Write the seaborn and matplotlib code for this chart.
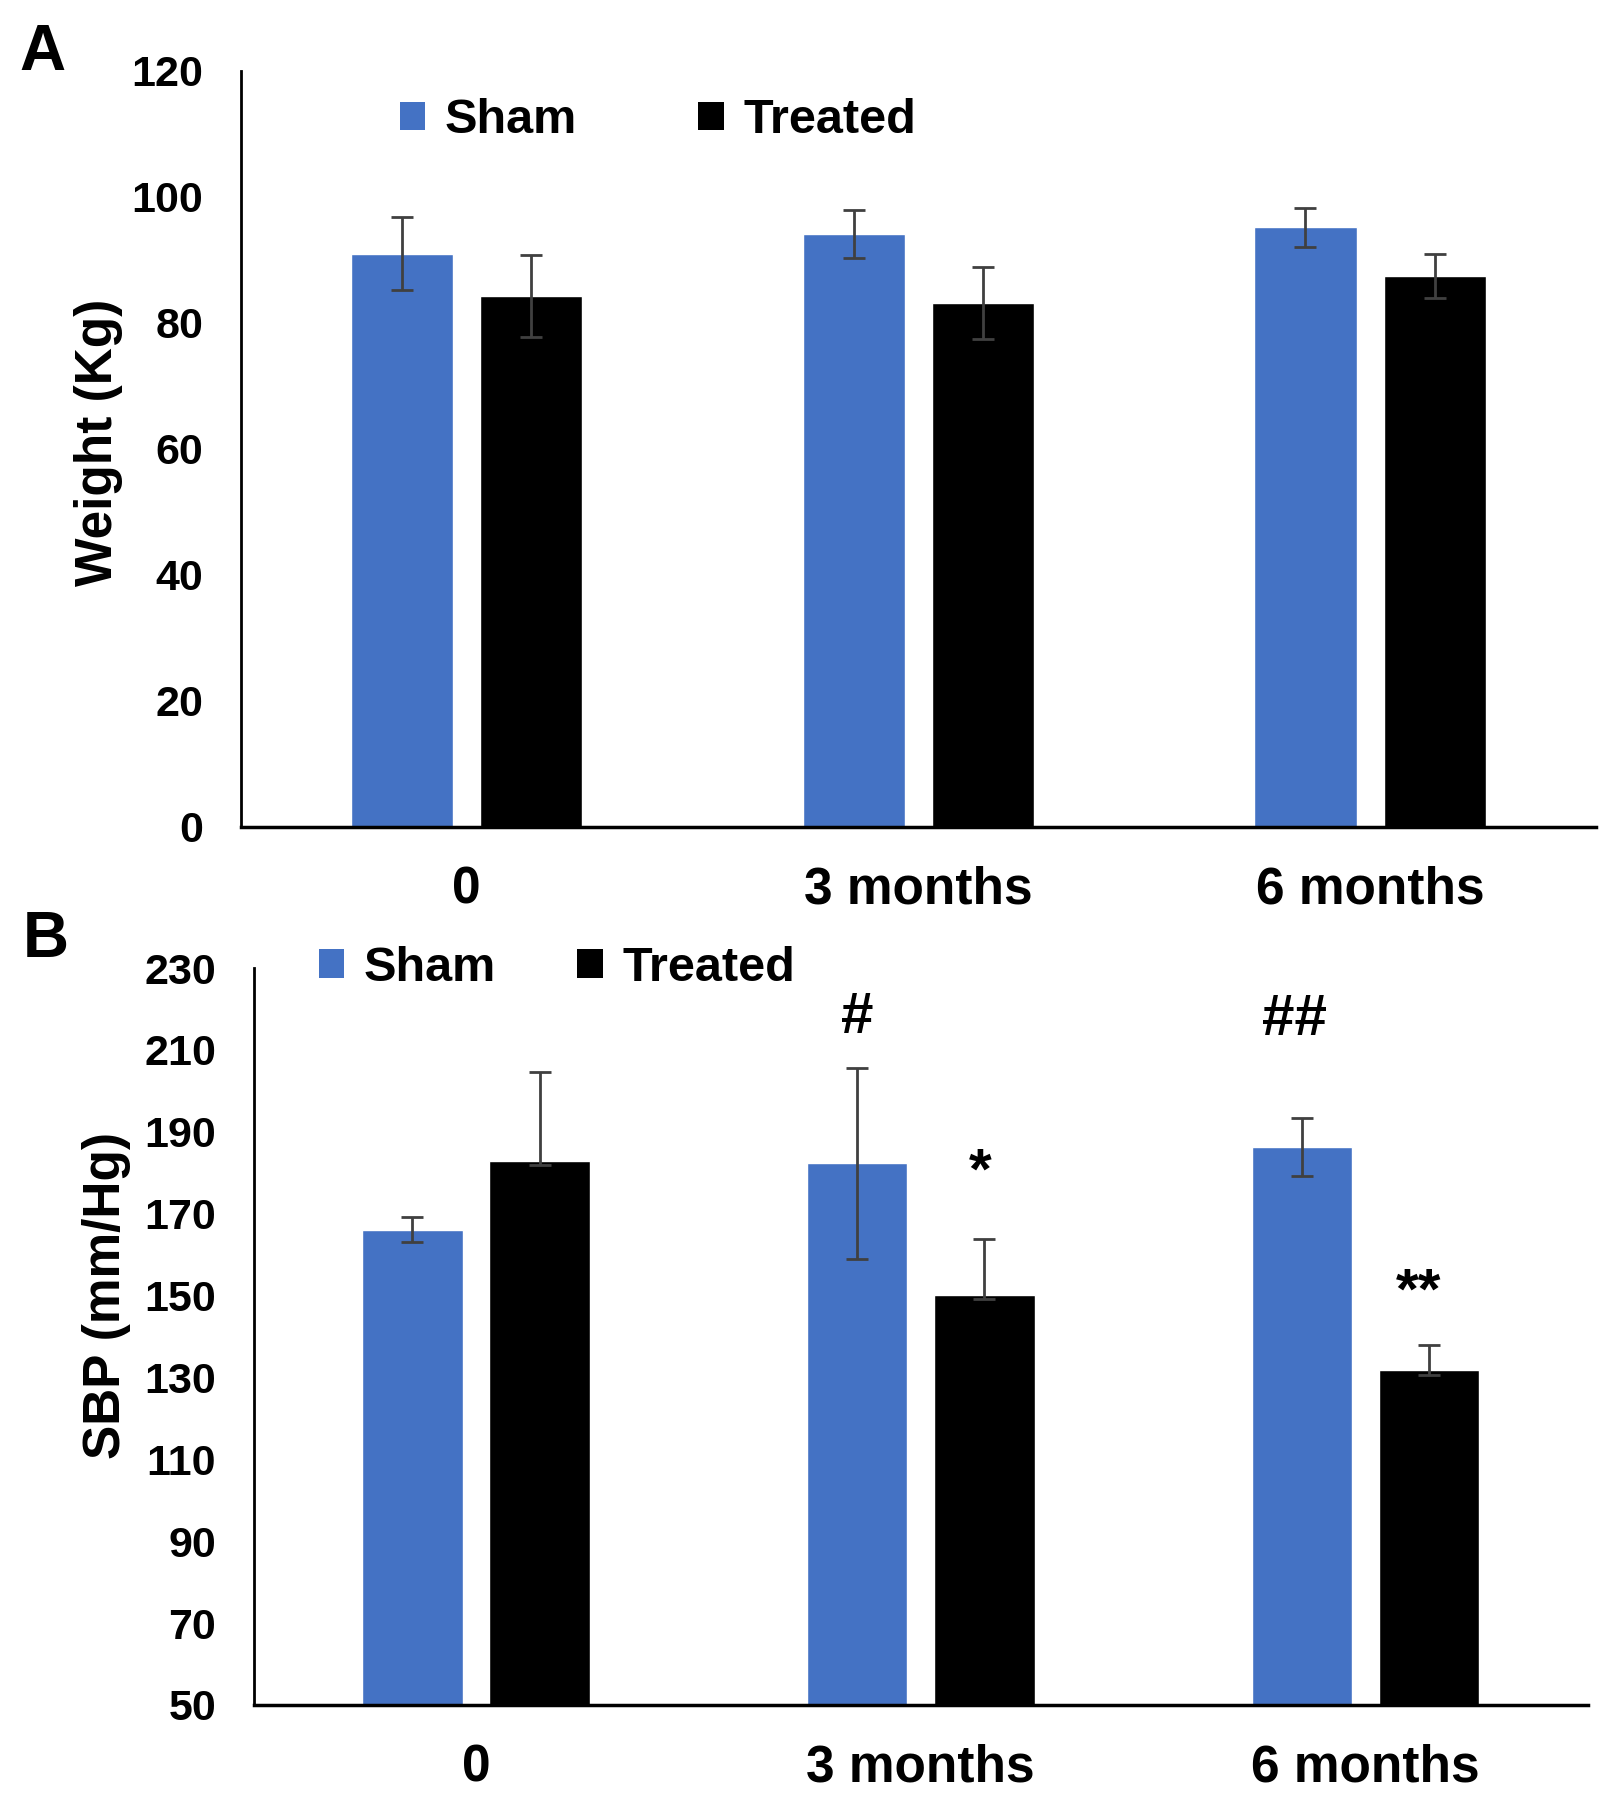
import matplotlib
matplotlib.use("Agg")
import matplotlib.pyplot as plt
from matplotlib.patches import Patch
import numpy as np
import pandas as pd
import seaborn as sns

# values
times = ["0", "3 months", "6 months"]
groups = ["Sham", "Treated"]

weight_sham = [91.0, 94.1, 95.2]
weight_sham_err = [5.8, 3.8, 3.1]
weight_treated = [84.3, 83.2, 87.4]
weight_treated_err = [6.5, 5.7, 3.5]

sbp_sham = [166.1, 182.3, 186.2]
sbp_sham_err = [3.0, 23.3, 7.1]
sbp_treated = [182.9, 150.1, 131.9]
sbp_treated_err_up = [21.6, 13.7, 6.1]
sbp_treated_err_low = [0.9, 0.9, 1.2]

# significance marks: (text, x position in category units, y value of glyph top)
sbp_marks = [("#", 0.857, 224.5), ("##", 1.84, 224.0), ("*", 1.135, 186.5), ("**", 2.12, 157.0)]

BLUE = "#4472C4"
ERR = "#404040"
PALETTE = {"Sham": BLUE, "Treated": "#000000"}

sns.set_theme(style="white")
plt.rcParams["font.family"] = ["Liberation Sans", "DejaVu Sans"]
plt.rcParams["font.weight"] = "bold"
plt.rcParams["text.color"] = "black"
plt.rcParams["axes.labelcolor"] = "black"
plt.rcParams["xtick.color"] = "black"
plt.rcParams["ytick.color"] = "black"


def long_frame(sham, treated):
    return pd.DataFrame({
        "time": times * 2,
        "group": ["Sham"] * 3 + ["Treated"] * 3,
        "value": list(sham) + list(treated),
    })


def draw_panel(ax, df, errs, ylim, yticks, ylabel, label_xy, legend_xy, colspace):
    sns.barplot(data=df, x="time", y="value", hue="group", order=times, hue_order=groups,
                palette=PALETTE, width=0.572, gap=0.21, errorbar=None, legend=False,
                saturation=1, ax=ax)
    for container, (low, up) in zip(ax.containers, errs):
        xs = [b.get_x() + b.get_width() / 2 for b in container]
        ys = [b.get_height() for b in container]
        ax.errorbar(xs, ys, yerr=[low, up], fmt="none", ecolor=ERR, elinewidth=2,
                    capsize=8, capthick=2, zorder=5)
    ax.set_ylim(*ylim)
    ax.set_xlim(-0.5, 2.5)
    ax.set_yticks(yticks)
    ax.set_xlabel("")
    ax.set_ylabel(ylabel, fontsize=37, fontweight="bold", color="black")
    ax.yaxis.set_label_coords(*label_xy)
    ax.tick_params(axis="y", length=0, pad=27, labelsize=31, labelcolor="black")
    ax.tick_params(axis="x", length=0, pad=28, labelsize=37, labelcolor="black")
    for lab in ax.get_xticklabels() + ax.get_yticklabels():
        lab.set_fontweight("bold")
    sns.despine(ax=ax)
    ax.spines["left"].set_color("black")
    ax.spines["left"].set_linewidth(2)
    ax.spines["bottom"].set_color("black")
    ax.spines["bottom"].set_linewidth(2.5)
    handles = [Patch(facecolor=PALETTE[g], edgecolor="none", label=g) for g in groups]
    leg = ax.legend(handles=handles, ncol=2, loc="center left", bbox_to_anchor=legend_xy,
                    frameon=False, handlelength=0.53, handleheight=0.53,
                    handletextpad=0.4, columnspacing=colspace, borderpad=0, borderaxespad=0,
                    prop={"weight": "bold", "size": 35})
    for t in leg.get_texts():
        t.set_color("black")


fig = plt.figure(figsize=(16.13, 18), dpi=100)
ax_a = fig.add_axes([0.1494, 0.5406, 0.840, 0.420])
ax_b = fig.add_axes([0.1573, 0.0528, 0.827, 0.4094])

draw_panel(ax_a, long_frame(weight_sham, weight_treated),
           [(weight_sham_err, weight_sham_err), (weight_treated_err, weight_treated_err)],
           (0, 120), np.arange(0, 121, 20), "Weight (Kg)", (-0.087, 0.508), (0.117, 0.934), 2.5)
draw_panel(ax_b, long_frame(sbp_sham, sbp_treated),
           [(sbp_sham_err, sbp_sham_err), (sbp_treated_err_low, sbp_treated_err_up)],
           (50, 230), np.arange(50, 231, 20), "SBP (mm/Hg)", (-0.092, 0.555), (0.0487, 1.0), 1.67)

for text, x, y in sbp_marks:
    ax_b.text(x, y, text, ha="center", va="top", fontsize=42, fontweight="bold", color="black")

fig.text(0.012, 1 - 23 / 1800, "A", ha="left", va="top", fontsize=46, fontweight="bold", color="black")
fig.text(0.014, 1 - 910 / 1800, "B", ha="left", va="top", fontsize=46, fontweight="bold", color="black")

fig.savefig("out.png", dpi=100)
